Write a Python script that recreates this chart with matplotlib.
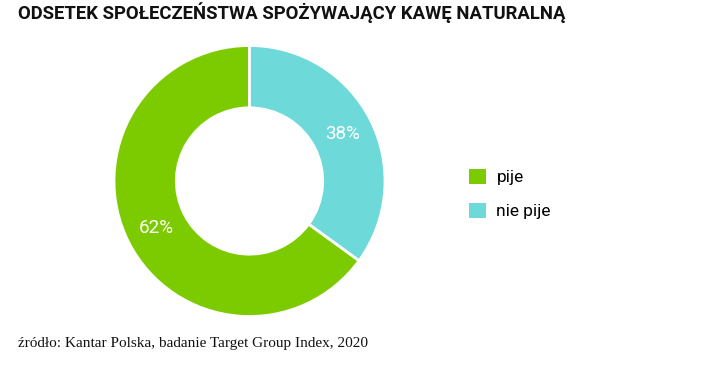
import matplotlib.pyplot as plt
from matplotlib.patches import Patch

# data
categories = ["pije", "nie pije"]
shares = [65, 35]            # drawn slice sizes
pct_labels = ["62%", "38%"]  # printed labels
colors = ["#7ccb00", "#6dd9d8"]

title = "ODSETEK SPOŁECZEŃSTWA SPOŻYWAJĄCY KAWĘ NATURALNĄ"
source = "źródło: Kantar Polska, badanie Target Group Index, 2020"

W, H = 719, 372
fig = plt.figure(figsize=(W / 100, H / 100), dpi=100)

# donut: centre (249.5, 181) px, outer radius 135.5 px
cx, cy, r = 249.5, 181, 135.5
ax = fig.add_axes([(cx - r) / W, (H - cy - r) / H, 2 * r / W, 2 * r / H])
wedges, texts = ax.pie(shares, colors=colors, startangle=90, counterclock=True,
                       labels=pct_labels, labeldistance=0.77,
                       wedgeprops=dict(width=0.46, edgecolor="white", linewidth=2))
for t in texts:
    t.set_color("white")
    t.set_fontsize(13.5)
    t.set_fontfamily("Roboto")
    t.set_ha("center")
    t.set_va("center")
ax.set_xlim(-1, 1)
ax.set_ylim(-1, 1)

handles = [Patch(facecolor=c, edgecolor="none") for c in colors]
fig.legend(handles, categories, loc="upper left", bbox_to_anchor=(453 / W, 1 - 153 / H),
           frameon=False, handlelength=1.0, handleheight=1.0, handletextpad=0.6,
           labelspacing=1.0, prop={"family": "Roboto", "size": 12.5})

fig.text(18 / W, 1 - 13 / H, title, fontsize=13.3, fontweight="bold",
         fontfamily="Roboto", va="center", ha="left", color="#111111")
fig.text(18 / W, 1 - 344 / H, source, fontsize=11, fontfamily="Liberation Serif",
         va="center", ha="left", color="#111111")

fig.savefig("out.png", dpi=100)
